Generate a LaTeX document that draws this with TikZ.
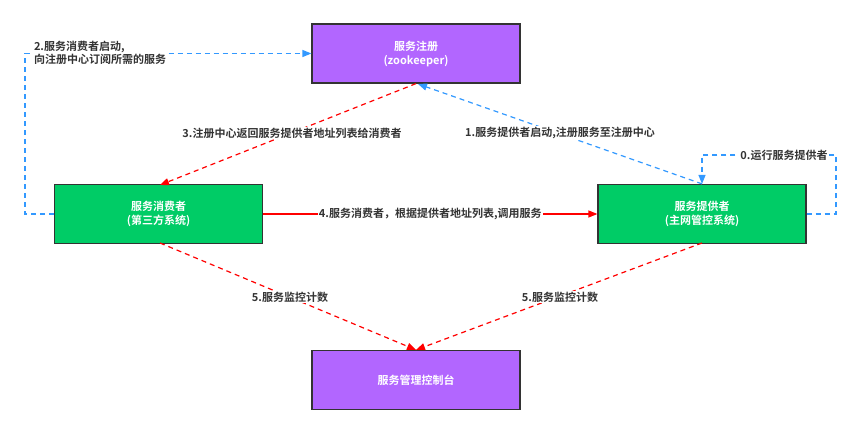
\documentclass[tikz,border=0pt]{standalone}
\usepackage{fontspec}
\setmainfont{Noto Sans CJK SC}[BoldFont={Noto Sans CJK SC Bold}]
\usetikzlibrary{arrows.meta}
\begin{document}
\begin{tikzpicture}[x=1pt,y=-1pt,
 box/.style={draw=black!80,line width=1.2pt,minimum width=208pt,minimum height=59pt,align=center,text=white,font=\fontsize{11}{14}\selectfont\bfseries},
 lbl/.style={fill=white,inner sep=1pt,align=center,text=black!80,font=\fontsize{11}{13}\selectfont\bfseries},
 bl/.style={draw=blue!50!cyan!80!white,color={rgb,255:red,51;green,153;blue,255},line width=1.2pt,dash pattern=on 5pt off 4pt,-{Triangle[length=9pt,width=7pt]}},
 rd/.style={draw=red,line width=1.2pt,dash pattern=on 5pt off 4pt,-{Triangle[length=9pt,width=7pt]}}]
\useasboundingbox (0,0) rectangle (861,435);
\definecolor{pur}{RGB}{178,102,255}
\definecolor{grn}{RGB}{0,204,102}
\node[box,fill=pur] (reg) at (416,53.5) {服务注册\\(zookeeper)};
\node[box,fill=grn] (con) at (158.5,214) {服务消费者\\(第三方系统)};
\node[box,fill=grn] (pro) at (702,214) {服务提供者\\(主网管控系统)};
\node[box,fill=pur] (mon) at (416,380) {服务管理控制台};
\coordinate (c2a) at (25,214);
\coordinate (c2b) at (25,53.5);
\coordinate (p0a) at (836,214);
\coordinate (p0b) at (836,155);
\coordinate (p0c) at (702,155);
\draw[bl] (con.west) -- (c2a) -- (c2b) -- (reg.west);
\node[lbl,align=left] at (100,53) {2.服务消费者启动,\\向注册中心订阅所需的服务};
\draw[rd] (reg.south) -- (160,185);
\node[lbl] at (292,133) {3.注册中心返回服务提供者地址列表给消费者};
\draw[bl] (pro.north) -- (418,84);
\node[lbl] at (560,133) {1.服务提供者启动,注册服务至注册中心};
\draw[bl] (pro.east) -- (p0a) -- (p0b) -- (p0c) -- (pro.north);
\node[lbl] at (784,155) {0.运行服务提供者};
\draw[draw=red,line width=1.2pt,-{Triangle[length=9pt,width=7pt]}] (con.east) -- (pro.west)
  node[lbl,midway] {4.服务消费者，根据提供者地址列表,调用服务};
\draw[rd] (160,243) -- (mon.north);
\draw[rd] (702,243) -- (mon.north);
\node[lbl] at (290,297) {5.服务监控计数};
\node[lbl] at (560,297) {5.服务监控计数};
\end{tikzpicture}
\end{document}
